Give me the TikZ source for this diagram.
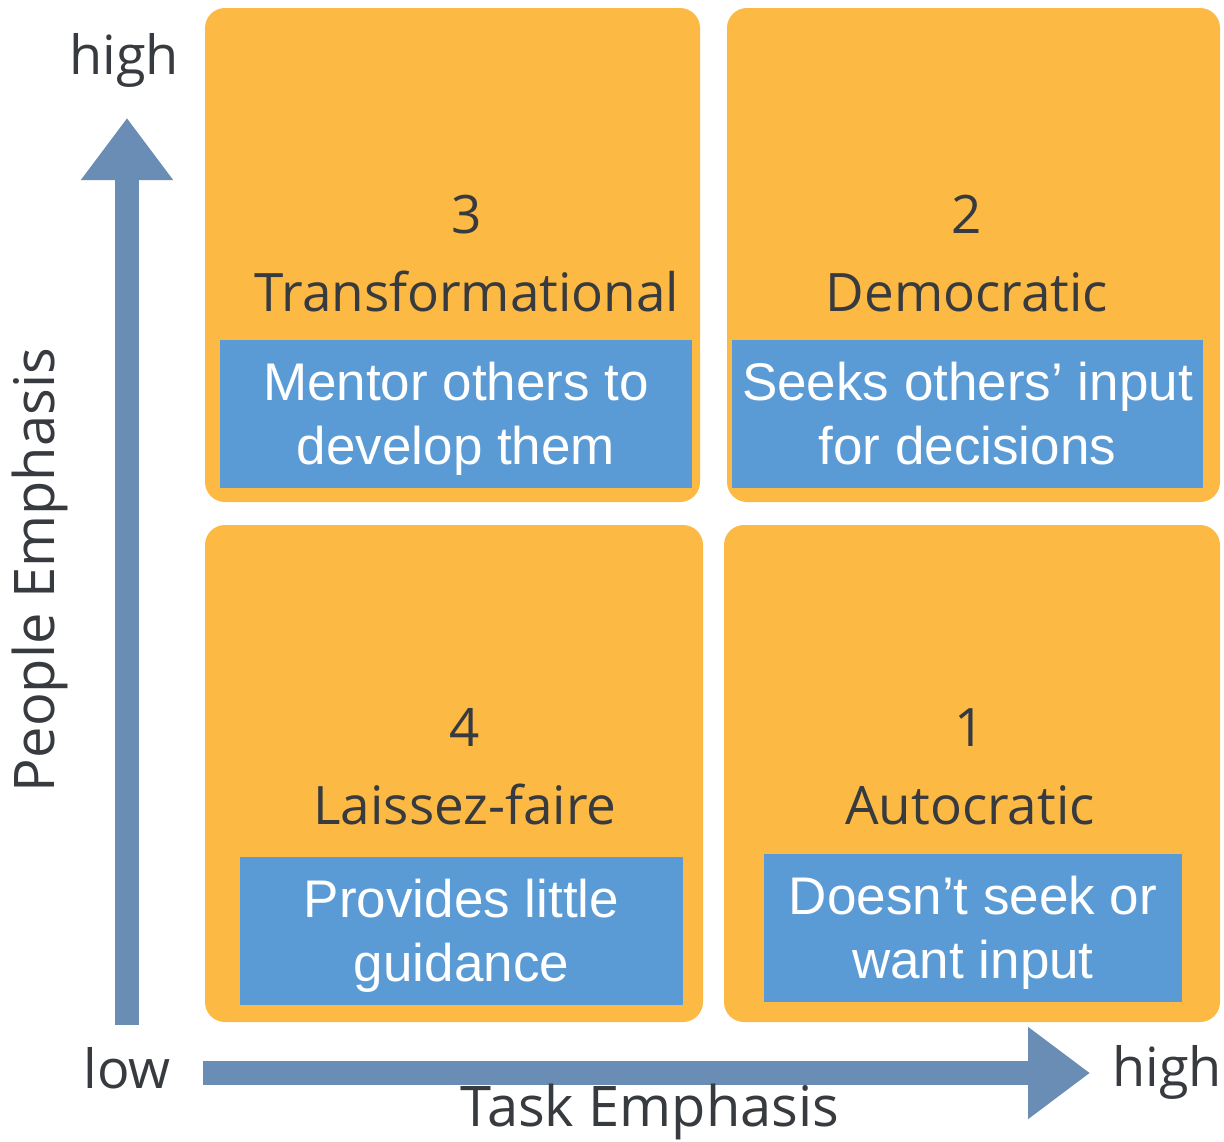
\documentclass[tikz,border=0pt]{standalone}
\usepackage{fontspec}
\setmainfont{Liberation Sans}
\newfontfamily\labelfont{Open Sans}
\usetikzlibrary{arrows.meta}
\definecolor{quadorange}{RGB}{252,185,68}
\definecolor{noteblue}{RGB}{91,155,213}
\definecolor{axisblue}{RGB}{106,141,181}
\definecolor{labelgray}{RGB}{55,58,62}
% a strut of fixed height and depth, so every two-line note is centred alike
\newcommand{\linestrut}{\rule[-14pt]{0pt}{52pt}}
\begin{document}
\begin{tikzpicture}[x=1pt,y=-1pt,
  quad/.style={fill=quadorange, rounded corners=20pt, inner sep=0pt, draw=none},
  note/.style={fill=noteblue, text=white, inner sep=0pt, align=center,
    font=\fontsize{53}{64}\selectfont},
  notetext/.style={note, fill=none},
  title/.style={text=labelgray, align=center, inner sep=0pt,
    font=\labelfont\fontsize{53}{78}\selectfont},
  axislabel/.style={text=labelgray, inner sep=0pt, font=\labelfont\fontsize{54}{60}\selectfont},
  axisname/.style={axislabel, font=\labelfont\fontsize{56}{60}\selectfont},
  axis/.style={axisblue, line width=24pt, -{Triangle[width=88pt,length=62pt]}}]
\useasboundingbox (0,0) rectangle (1224,1141);
\fill[white] (0,0) rectangle (1224,1141);

% quadrants
\node[quad, minimum width=495pt, minimum height=494pt] (q3) at (452.5,255) {};
\node[quad, minimum width=493pt, minimum height=494pt] (q2) at (973.5,255) {};
\node[quad, minimum width=498pt, minimum height=497pt] (q4) at (454,773.5) {};
\node[quad, minimum width=496pt, minimum height=497pt] (q1) at (972,773.5) {};

% quadrant titles
\node[title] (t3) at (467,254) {3\\Transformational};
\node[title] (t2) at (967,254) {2\\Democratic};
\node[title] (t4) at (465,767) {4\\Laissez-faire};
\node[title] (t1) at (970,767) {1\\Autocratic};

% descriptions
\node[note, minimum width=472pt, minimum height=148pt] (n3) at (456,414) {};
\node[notetext] (n3t) at ([yshift=-6pt]n3.center) {\linestrut Mentor others to\\\linestrut develop them};
\node[note, minimum width=471pt, minimum height=148pt] (n2) at (967.5,414) {};
\node[notetext] (n2t) at ([yshift=-6pt]n2.center) {\linestrut Seeks others’ input\\\linestrut for decisions};
\node[note, minimum width=443pt, minimum height=148pt] (n4) at (461.5,931) {};
\node[notetext] (n4t) at ([yshift=-6pt]n4.center) {\linestrut Provides little\\\linestrut guidance};
\node[note, minimum width=418pt, minimum height=148pt] (n1) at (973,928) {};
\node[notetext] (n1t) at ([yshift=-6pt]n1.center) {\linestrut Doesn’t seek or\\\linestrut want input};

% axes
\coordinate (ybase) at (127,1025);
\coordinate (ytip) at (127,118);
\coordinate (xbase) at (203,1073);
\coordinate (xtip) at (1090,1073);
\draw[axis] (ybase) -- (ytip);
\draw[axis] (xbase) -- (xtip);

% axis labels
\node[axislabel] (yhigh) at (124,60) {high};
\node[axislabel] (low) at (127,1068) {low};
\node[axislabel] (xhigh) at (1167,1072) {high};
\node[axisname] (xname) at (650,1112) {Task Emphasis};
\node[axisname, rotate=90] (yname) at (40,570) {People Emphasis};
\end{tikzpicture}
\end{document}
